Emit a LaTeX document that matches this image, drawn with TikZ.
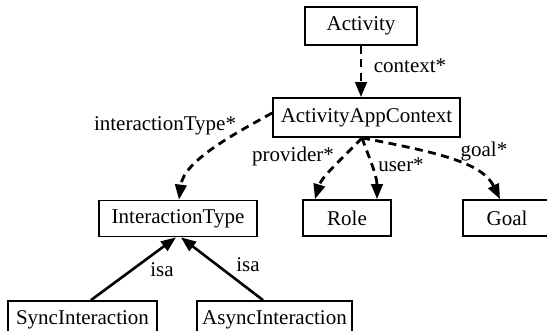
\documentclass[tikz,border=0pt]{standalone}
\usepackage{fontspec}
\setmainfont{Liberation Serif}
\usetikzlibrary{arrows.meta}

\tikzset{
  cls/.style={draw, line width=1.8pt, inner sep=0pt, minimum height=36pt,
    font=\fontsize{21}{25}\selectfont},
  lbl/.style={inner sep=0pt, font=\fontsize{21}{25}\selectfont},
  assoc/.style={line width=2.8pt, dash pattern=on 8pt off 5.5pt,
    -{Triangle[length=15pt,width=11.5pt]}},
  gen/.style={line width=2.6pt, -{Triangle[length=15pt,width=11.5pt]}}
}

\begin{document}
\begin{tikzpicture}[x=1pt,y=-1pt]
  \clip (0,0) rectangle (547,330);
  \fill[white] (0,0) rectangle (547,330);

  % classes
  \node[cls, minimum width=112pt, minimum height=38pt] (act) at (361,26) {Activity};
  \node[cls, minimum width=187pt, minimum height=39pt] (ctx) at (366.5,117.5) {ActivityAppContext};
  \node[cls, minimum width=158pt] (itype) at (178,218.5) {InteractionType};
  \node[cls, minimum width=88pt] (role) at (347,218) {Role};
  \node[cls, minimum width=88pt] (goal) at (507,218) {Goal};
  \node[cls, minimum width=149pt, minimum height=37pt] (sync) at (82.5,319.5) {SyncInteraction};
  \node[cls, minimum width=155pt, minimum height=37pt] (async) at (274.5,319.5) {AsyncInteraction};

  % common tail point of the context associations
  \coordinate (hub) at ([xshift=-4.5pt]ctx.south);

  % associations
  \draw[assoc] (act.south) -- (act.south |- ctx.north);
  \draw[assoc] ([yshift=4.5pt]ctx.west) .. controls (238,132) and (184,160) .. ([xshift=1pt]itype.north);
  \draw[assoc] (hub) .. controls (345,156) and (322,176) .. ([xshift=-32pt]role.north);
  \draw[assoc] (hub) .. controls (368,155) and (377,175) .. ([xshift=30pt]role.north);
  \draw[assoc] (hub) .. controls (435,152) and (482,162) .. ([xshift=-7pt]goal.north);

  % generalisations
  \draw[gen] ([xshift=8.5pt]sync.north) -- ([xshift=-2pt]itype.south);
  \draw[gen] ([xshift=-11.5pt]async.north) -- ([xshift=3pt]itype.south);

  % role names
  \node[lbl] (lctx) at (410,66) {context*};
  \node[lbl] (lit) at (165,126) {interactionType*};
  \node[lbl] (lprov) at (293,156) {provider*};
  \node[lbl] (luser) at (401,165) {user*};
  \node[lbl] (lgoal) at (484,151) {goal*};
  \node[lbl] (lisa1) at (162,270) {isa};
  \node[lbl] (lisa2) at (248,265) {isa};
\end{tikzpicture}
\end{document}
